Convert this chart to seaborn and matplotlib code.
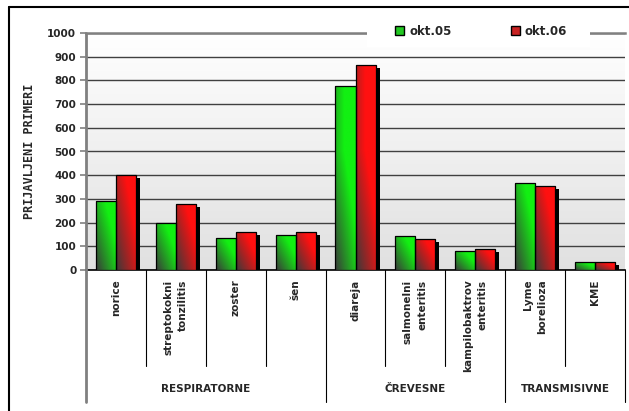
import seaborn as sns
import matplotlib.pyplot as plt
import matplotlib.colors as mcolors
from matplotlib.patches import Patch, Rectangle
import pandas as pd
import numpy as np

categories = ["norice", "streptokokni\ntonzilitis", "zoster", "šen", "diareja",
              "salmonelni\nenteritis", "kampilobaktrov\nenteritis", "Lyme\nborelioza", "KME"]
okt05 = [290, 198, 133, 147, 775, 145, 80, 368, 33]
okt06 = [400, 280, 160, 160, 865, 132, 90, 353, 33]
series = ["okt.05", "okt.06"]
groups = ["RESPIRATORNE", "ČREVESNE", "TRANSMISIVNE"]
group_sizes = [4, 3, 2]
yticks = list(range(0, 1001, 100))

df = pd.DataFrame({"bolezen": categories * 2,
                   "serija": [series[0]] * len(categories) + [series[1]] * len(categories),
                   "primeri": okt05 + okt06})

sns.set_style("white")
plt.rcParams['font.family'] = ['DejaVu Sans']

fig = plt.figure(figsize=(6.29, 4.11), dpi=100)
W, H = 629, 411
ax = fig.add_axes([86 / W, 1 - 270 / H, (625 - 86) / W, (270 - 33) / H])

sns.barplot(data=df, x="bolezen", y="primeri", hue="serija", hue_order=series,
            palette=["#20e020", "#f01818"], width=0.67, ax=ax, legend=False,
            edgecolor="black", linewidth=0.9, zorder=3)

ax.set_xlim(-0.5, len(categories) - 0.5)
ax.set_ylim(0, 1000)

# background gradient white -> light gray
bg = np.linspace(0.88, 1.0, 256).reshape(-1, 1)
ax.imshow(np.dstack([bg, bg, bg]), extent=[-0.5, len(categories) - 0.5, 0, 1000],
          aspect="auto", origin="lower", zorder=0)

dark = np.array(mcolors.to_rgb("#3a3a3a"))
bright = {0: np.array(mcolors.to_rgb("#12f012")), 1: np.array(mcolors.to_rgb("#ff1010"))}
px_x = (len(categories)) / 539.0
px_y = 1000 / 237.0

for si, cont in enumerate(ax.containers):
    for p in cont.patches:
        x, w, h = p.get_x(), p.get_width(), p.get_height()
        # shadow
        sh = Rectangle((x + 4 * px_x, 0), w, max(h - 3 * px_y, 0), facecolor="black",
                       edgecolor="none", zorder=2)
        ax.add_patch(sh)
        xf = np.linspace(0, 1, 40)[None, :]
        hp = h / px_y
        yf = np.clip(np.linspace(0, hp, 200)[:, None] / max(min(hp, 120), 1), 0, 1)
        t = np.clip((0.7 * xf + 0.6 * yf) * 1.1, 0, 1)
        img = dark[None, None, :] * (1 - t[..., None]) + bright[si][None, None, :] * t[..., None]
        im = ax.imshow(img, extent=[x, x + w, 0, h], aspect="auto", origin="lower", zorder=3)
        im.set_clip_path(p)
        p.set_facecolor("none")
        p.set_zorder(4)

ax.set_xlim(-0.5, len(categories) - 0.5)
ax.set_ylim(0, 1000)

ax.set_yticks(yticks)
ax.set_yticklabels([str(v) for v in yticks], fontsize=7.5, fontweight="bold")
ax.yaxis.grid(True, color="#404040", linewidth=1)
ax.set_axisbelow(True)
for gl in ax.get_ygridlines():
    gl.set_zorder(1)
ax.tick_params(axis="y", length=4, width=1.2, color="#808080", pad=3, left=True)
ax.tick_params(axis="x", length=0, pad=7)

ax.set_xticks(range(len(categories)))
ax.set_xticklabels(categories, rotation=90, va="top", ha="center", fontsize=7.5,
                   fontweight="bold", multialignment="right", linespacing=1.6)
ax.set_xlabel("")
ax.set_ylabel("PRIJAVLJENI PRIMERI", fontsize=8.5, fontweight="bold",
              family="DejaVu Sans Mono", labelpad=8)

ax.spines["right"].set_visible(False)
ax.spines["top"].set_color("#808080")
ax.spines["top"].set_linewidth(1.8)
ax.spines["bottom"].set_color("black")
ax.spines["bottom"].set_linewidth(1.2)
ax.spines["left"].set_visible(False)

tr = ax.get_xaxis_transform()
inner = (270 - 366) / 237.0
outer = (270 - 402) / 237.0
ax.plot([-0.5, -0.5], [1, outer], transform=tr, color="#808080", lw=2, clip_on=False, zorder=5)
bounds = np.cumsum([0] + group_sizes) - 0.5
for i in range(1, len(categories) + 1):
    xb = i - 0.5
    low = outer if xb in bounds else inner
    ax.plot([xb, xb], [0, low], transform=tr, color="black", lw=0.8, clip_on=False)

for gi, g in enumerate(groups):
    cx = (bounds[gi] + bounds[gi + 1]) / 2
    ax.text(cx, (270 - 389) / 237.0, g, transform=tr, ha="center", va="center",
            fontsize=7.5, fontweight="bold")

# white band behind the legend, covering the top line
ax.add_patch(Rectangle(((367 - 86) / 539, 1 - 14 / 237), (590 - 367) / 539, 24 / 237,
                       transform=ax.transAxes, facecolor="white", edgecolor="none",
                       clip_on=False, zorder=6))

handles = [Patch(facecolor="#22c822", edgecolor="black", label=series[0]),
           Patch(facecolor="#c82222", edgecolor="black", label=series[1])]
leg = ax.legend(handles=handles, loc="center", bbox_to_anchor=((481 - 86) / 539, 1 + 2 / 237),
                ncol=2, frameon=False,
                handlelength=0.8, handleheight=0.8, handletextpad=0.4, columnspacing=5.0,
                borderpad=0.3, prop={"weight": "bold", "size": 8.5})
leg.set_zorder(10)

# outer frame lines
fig.add_artist(plt.Line2D([9 / W, 1], [1 - 7 / H, 1 - 7 / H], color="black", lw=1.5))
fig.add_artist(plt.Line2D([9 / W, 9 / W], [0, 1 - 7 / H], color="black", lw=1.5))

fig.savefig("out.png", dpi=100)
